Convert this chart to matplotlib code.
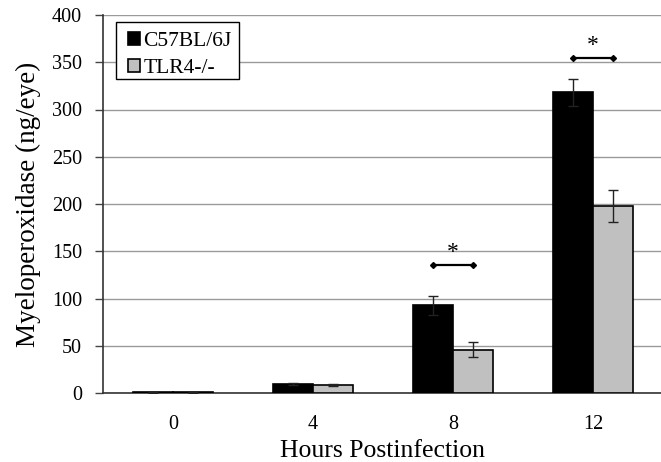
import matplotlib
matplotlib.use("Agg")
import matplotlib.pyplot as plt
from matplotlib.patches import Rectangle
import numpy as np

# Myeloperoxidase levels per eye over time after infection
hours = ["0", "4", "8", "12"]
c57_mean = [1, 9.5, 93, 318]
c57_err = [0.5, 1, 10, 14]
tlr4_mean = [1, 8.5, 46, 198]
tlr4_err = [0.5, 1, 8, 17]

# Significance brackets: (category index, bracket height, star height)
sig_idx = [2, 3]
sig_y = [135, 354]
star_y = [138, 357]

plt.rcParams['font.family'] = ['Liberation Serif', 'DejaVu Serif']

fig = plt.figure(figsize=(6.61, 4.62), dpi=100)
ax = fig.add_axes([103 / 661, 1 - 393 / 462, 560 / 661, 378 / 462])

x = np.arange(len(hours))
w = 0.285

ax.bar(x - w / 2, c57_mean, w, color='black', edgecolor='black', linewidth=1.2,
       label='C57BL/6J', zorder=3)
ax.bar(x + w / 2, tlr4_mean, w, color='#c0c0c0', edgecolor='black', linewidth=1.2,
       label='TLR4-/-', zorder=3)
ax.errorbar(x - w / 2, c57_mean, yerr=c57_err, fmt='none', ecolor='#222222',
            elinewidth=1, capsize=3.5, capthick=1, zorder=4)
ax.errorbar(x + w / 2, tlr4_mean, yerr=tlr4_err, fmt='none', ecolor='#222222',
            elinewidth=1, capsize=3.5, capthick=1, zorder=4)

for i, yb, ys in zip(sig_idx, sig_y, star_y):
    ax.plot([x[i] - w / 2, x[i] + w / 2], [yb, yb], color='black', lw=1.6,
            marker='D', markersize=3, zorder=5)
    ax.text(x[i], ys, '*', ha='center', va='bottom', fontsize=17, zorder=5)

ax.set_xlim(-0.5, 3.5)
ax.set_ylim(0, 400)
ax.set_yticks(np.arange(0, 401, 50))
ax.set_xticks(x)
ax.set_xticklabels(hours)
ax.tick_params(axis='x', length=0, pad=16, labelsize=14.5)
ax.tick_params(axis='y', length=6, width=1, direction='out', labelsize=14.5,
               color='#444444', pad=9)
ax.yaxis.grid(True, color='#9a9a9a', linewidth=1)
ax.set_axisbelow(True)

for s in ['top', 'right']:
    ax.spines[s].set_visible(False)
ax.spines['left'].set_color('#333333')
ax.spines['bottom'].set_color('#333333')
ax.spines['left'].set_linewidth(1.2)
ax.spines['bottom'].set_linewidth(1.2)

ax.set_ylabel('Myeloperoxidase (ng/eye)', fontsize=19.5, labelpad=8)
ax.set_xlabel('Hours Postinfection', fontsize=18.5, labelpad=4)

# Legend entries without a frame, plus a separate box around them
leg = ax.legend(loc='upper left', bbox_to_anchor=(0.045, 0.955), fontsize=15.5,
                frameon=False, handlelength=0.55, handleheight=0.55,
                handletextpad=0.15, borderpad=0, labelspacing=0.35,
                borderaxespad=0)
leg.set_zorder(6)
ax.add_patch(Rectangle((0.0232, 0.8307), 0.2196, 0.1508, transform=ax.transAxes,
                       facecolor='white', edgecolor='black', linewidth=1.0,
                       zorder=5.5))

fig.savefig('out.png', dpi=100)
